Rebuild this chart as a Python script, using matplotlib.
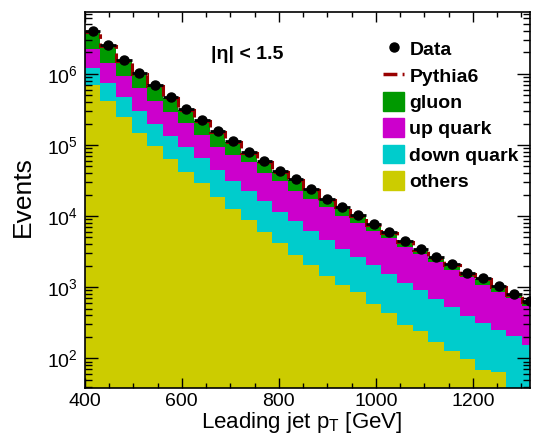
import numpy as np
import matplotlib
matplotlib.use('Agg')
import matplotlib.pyplot as plt
from matplotlib.patches import Patch
from matplotlib.lines import Line2D
from matplotlib.ticker import MultipleLocator, LogLocator, NullFormatter

plt.rcParams['font.family'] = ['Liberation Sans', 'DejaVu Sans']
plt.rcParams['mathtext.fontset'] = 'custom'
plt.rcParams['mathtext.rm'] = 'Liberation Sans'
plt.rcParams['mathtext.it'] = 'Liberation Sans:italic'
plt.rcParams['mathtext.bf'] = 'Liberation Sans:bold'

# leading jet pT bins (GeV)
pt_low = 400
bin_width = 32.2
n_bins = 29

# stacked MC components, per bin
others = [6.9e5, 4.16e5, 2.46e5, 1.49e5, 9.7e4, 6.3e4, 4.2e4, 2.89e4, 1.84e4, 1.26e4,
          8.8e3, 6.0e3, 4.14e3, 2.84e3, 2.05e3, 1.45e3, 1.07e3, 865, 570, 430,
          294, 237, 166, 127, 97, 67, 63, 30, 25]
down_quark = [5.1e5, 3.24e5, 2.23e5, 1.51e5, 1.0e5, 7.1e4, 5.1e4, 3.61e4, 2.61e4, 1.89e4,
              1.38e4, 1.03e4, 7.36e3, 5.76e3, 4.15e3, 3.15e3, 2.37e3, 1.83e3, 1.48e3, 1.11e3,
              836, 675, 516, 394, 301, 244, 187, 176, 129]
up_quark = [1.02e6, 7.0e5, 4.61e5, 3.27e5, 2.23e5, 1.6e5, 1.09e5, 7.3e4, 5.05e4, 4.05e4,
            3.44e4, 2.44e4, 1.97e4, 1.42e4, 1.12e4, 8.7e3, 6.56e3, 5.21e3, 4.15e3, 3.33e3,
            2.59e3, 1.99e3, 1.61e3, 1.23e3, 982, 759, 615, 492, 391]
gluon = [1.66e6, 1.03e6, 5.9e5, 3.6e5, 2.5e5, 1.6e5, 1.12e5, 8.0e4, 5.9e4, 3.95e4,
         2.1e4, 1.7e4, 1.05e4, 9.1e3, 5.9e3, 3.6e3, 3.2e3, 2.1e3, 1.27e3, 850,
         620, 410, 260, 300, 170, 220, 145, 73, 82]
data = [4.0e6, 2.55e6, 1.57e6, 1.02e6, 6.9e5, 4.69e5, 3.24e5, 2.25e5, 1.59e5, 1.15e5,
        8.05e4, 5.96e4, 4.3e4, 3.29e4, 2.4e4, 1.74e4, 1.36e4, 1.03e4, 7.7e3, 5.9e3,
        4.47e3, 3.41e3, 2.63e3, 2.1e3, 1.6e3, 1.33e3, 1.04e3, 795, 646]

edges = pt_low + bin_width * np.arange(n_bins + 1)
centers = 0.5 * (edges[:-1] + edges[1:])

fig = plt.figure(figsize=(5.34, 4.34), dpi=100)
ax = fig.add_axes([0.1588, 0.1071, 0.9925 - 0.1588, 0.9724 - 0.1071])
ax.set_yscale('log')

components = [(others, '#cccc00'), (down_quark, '#00cccc'),
              (up_quark, '#cc00cc'), (gluon, '#009900')]
bottom = np.full(n_bins, 1.0)
for vals, col in components:
    top = bottom + np.array(vals)
    ax.stairs(top, edges, baseline=bottom, fill=True, color=col, lw=0)
    bottom = top
total = bottom

pythia_ls = (0, (4, 1.5, 1.5, 1.5))
ax.stairs(total, edges, baseline=None, color='#990000', lw=2.2, linestyle=pythia_ls)
ax.errorbar(centers, data, xerr=bin_width / 2, fmt='o', color='black', ms=6.5,
            elinewidth=2, capsize=0)

ax.set_xlim(400, 1318)
ax.set_ylim(38.8, 7.4e6)

ax.xaxis.set_major_locator(MultipleLocator(200))
ax.xaxis.set_minor_locator(MultipleLocator(50))
ax.yaxis.set_major_locator(LogLocator(base=10, numticks=10))
ax.yaxis.set_minor_locator(LogLocator(base=10, subs=np.arange(2, 10), numticks=20))
ax.yaxis.set_minor_formatter(NullFormatter())
ax.tick_params(which='both', direction='in', top=True, right=True, labelsize=14, width=1)
ax.tick_params(axis='x', which='major', length=7, pad=4)
ax.tick_params(axis='x', which='minor', length=3.6)
ax.tick_params(axis='y', which='major', length=9.5, pad=5)
ax.tick_params(axis='y', which='minor', length=5)
for s in ax.spines.values():
    s.set_linewidth(1.2)

fig.text(23 / 534, 1 - 197 / 434, 'Events', rotation=90, ha='center', va='center', fontsize=19)
fig.text(302 / 534, 1 - 428 / 434, r'Leading jet p$_{\mathregular{T}}$ [GeV]',
         ha='center', va='baseline', fontsize=16)
ax.text(0.284, 0.888, '|η| < 1.5', transform=ax.transAxes, fontsize=14,
        fontweight='bold', ha='left', va='center')

handles = [Line2D([], [], marker='o', color='black', ls='none', ms=6.5),
           Line2D([], [], color='#990000', lw=2.5, linestyle=pythia_ls),
           Patch(color='#009900'), Patch(color='#cc00cc'),
           Patch(color='#00cccc'), Patch(color='#cccc00')]
labels = ['Data', 'Pythia6', 'gluon', 'up quark', 'down quark', 'others']
ax.legend(handles, labels, loc='upper left', bbox_to_anchor=(0.652, 0.948),
          frameon=False, prop={'weight': 'bold', 'size': 14},
          handlelength=1.1, handleheight=1.1, handletextpad=0.26, labelspacing=0.33,
          borderaxespad=0)

fig.savefig('out.png', dpi=100)
